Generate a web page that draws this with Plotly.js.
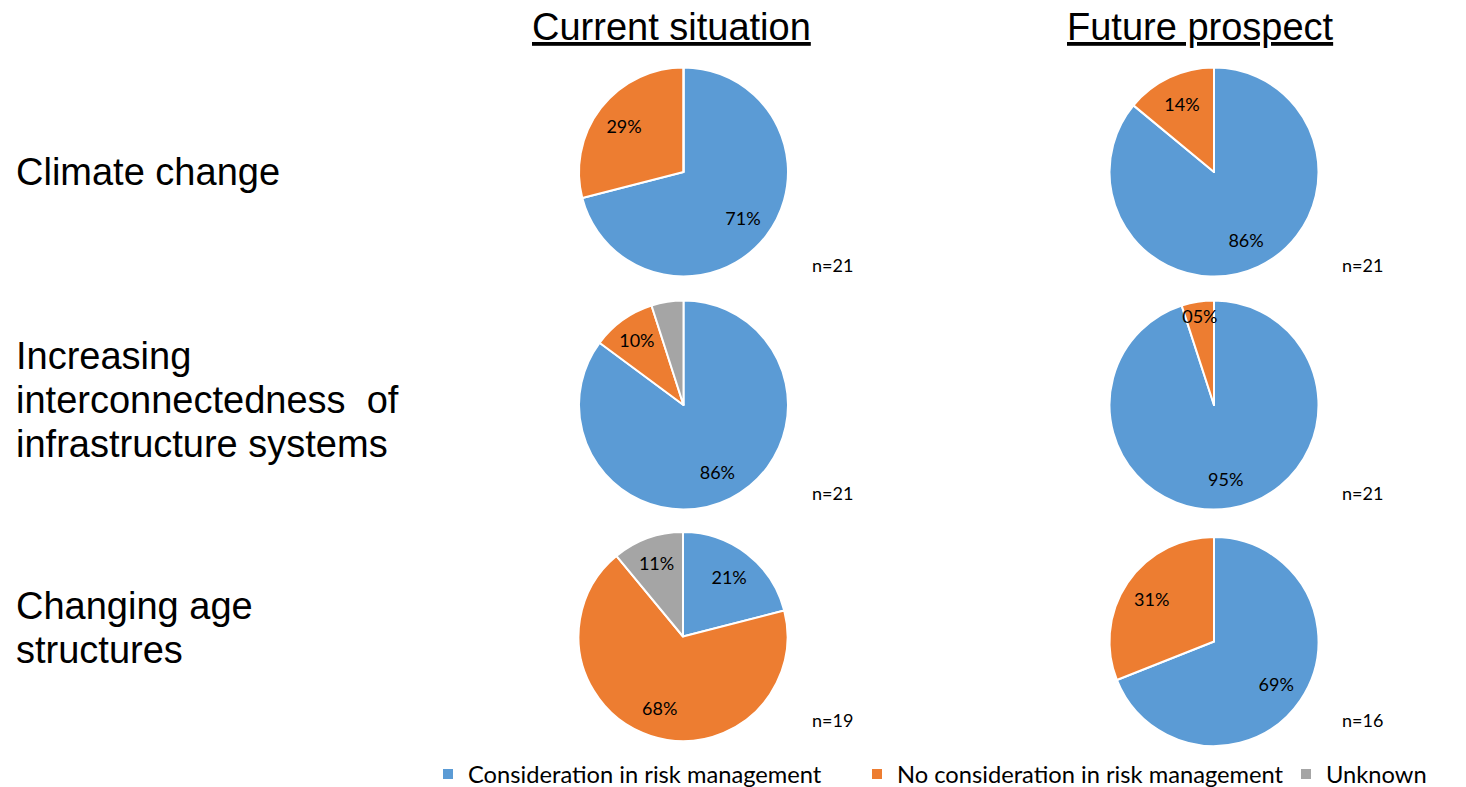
<!DOCTYPE html>
<html>
<head>
<meta charset="utf-8">
<script src="https://cdn.plot.ly/plotly-3.0.1.min.js"></script>
<style>html,body{margin:0;padding:0;background:#fff;} #chart{width:1466px;height:787px;}</style>
</head>
<body>
<div id="chart"></div>
<script>
// ---- data ----
const categories = ['Consideration in risk management', 'No consideration in risk management', 'Unknown'];
const colors = ['#5B9BD5', '#ED7D31', '#A5A5A5'];
const rowLabels = [['Climate change'], ['Increasing', 'interconnectedness  of', 'infrastructure systems'], ['Changing age', 'structures']];
const columnTitles = ['Current situation', 'Future prospect'];
// percent shares per row (Climate change, Interconnectedness, Age structures)
const currentValues = [[71, 29, 0], [86, 10, 5], [21, 68, 11]];
const futureValues = [[86, 14, 0], [95, 5, 0], [69, 31, 0]];
const currentText = [['71%', '29%', ''], ['86%', '10%', ''], ['21%', '68%', '11%']];
const futureText = [['86%', '14%', ''], ['95%', '05%', ''], ['69%', '31%', '']];
const currentN = ['n=21', 'n=21', 'n=19'];
const futureN = ['n=21', 'n=21', 'n=16'];

// ---- layout helpers ----
const W = 1466, H = 787;
const R = 104.5;
const curCenters = [[683.5, 172], [683.5, 405], [683, 636.5]];
const futCenters = [[1214, 172], [1214, 405], [1214, 641.5]];
function dom(c) {
  return {x: [(c[0] - R) / W, (c[0] + R) / W], y: [1 - (c[1] + R) / H, 1 - (c[1] - R) / H]};
}
const labelFont = {family: 'Lato, Carlito, sans-serif', size: 18, color: '#000'};

const traces = [];
function addPie(values, text, center, showLegend) {
  // filled slices
  traces.push({
    type: 'pie',
    labels: categories,
    values: values,
    textinfo: 'none',
    sort: false,
    direction: 'clockwise',
    rotation: 0,
    marker: {colors: colors, line: {color: '#fff', width: 2}},
    domain: dom(center),
    showlegend: showLegend,
    hoverinfo: 'label+percent'
  });
  // transparent ring carrying the data labels (places them further out like the original)
  traces.push({
    type: 'pie',
    labels: categories,
    values: values,
    text: text,
    textinfo: 'text',
    textposition: 'inside',
    insidetextorientation: 'horizontal',
    insidetextfont: labelFont,
    hole: 0.44,
    sort: false,
    direction: 'clockwise',
    rotation: 0,
    marker: {colors: ['rgba(0,0,0,0)', 'rgba(0,0,0,0)', 'rgba(0,0,0,0)'], line: {width: 0}},
    domain: dom(center),
    showlegend: false,
    hoverinfo: 'skip'
  });
}
for (let i = 0; i < 3; i++) {
  addPie(currentValues[i], currentText[i], curCenters[i], i === 2);
  addPie(futureValues[i], futureText[i], futCenters[i], false);
}

const annotations = [];
const titleX = [671, 1200];
columnTitles.forEach((t, i) => annotations.push({
  text: '<u>' + t + '</u>', xref: 'paper', yref: 'paper', x: titleX[i] / W, y: 1 - 27 / H,
  xanchor: 'center', yanchor: 'middle', showarrow: false,
  font: {family: '"Liberation Sans Narrow", "Arial Narrow", "Liberation Sans", Arial, sans-serif', size: 38, color: '#000'}
}));
const rowY = [[172], [356, 400, 444], [606, 650]];
rowLabels.forEach((lines, i) => lines.forEach((t, j) => annotations.push({
  text: t, xref: 'paper', yref: 'paper', x: 14 / W, y: 1 - rowY[i][j] / H,
  xanchor: 'left', yanchor: 'middle', align: 'left', showarrow: false,
  font: {family: '"Liberation Sans", Arial, sans-serif', size: 38, color: '#000'}
})));
const nY = [265, 493, 720];
for (let i = 0; i < 3; i++) {
  annotations.push({text: currentN[i], xref: 'paper', yref: 'paper', x: 833 / W, y: 1 - nY[i] / H,
    xanchor: 'center', yanchor: 'middle', showarrow: false, font: labelFont});
  annotations.push({text: futureN[i], xref: 'paper', yref: 'paper', x: 1362 / W, y: 1 - nY[i] / H,
    xanchor: 'center', yanchor: 'middle', showarrow: false, font: labelFont});
}

const layout = {
  width: W, height: H,
  margin: {l: 0, r: 0, t: 0, b: 0, autoexpand: false},
  paper_bgcolor: '#fff',
  showlegend: true,
  uniformtext: {minsize: 18, mode: 'show'},
  legend: {
    orientation: 'h', x: 428 / W, y: 1 - 774 / H, xanchor: 'left', yanchor: 'middle',
    entrywidth: 384, entrywidthmode: 'pixels',
    font: {family: 'Lato, Carlito, sans-serif', size: 23.7, color: '#000'},
    traceorder: 'normal', bgcolor: 'rgba(0,0,0,0)'
  },
  annotations: annotations
};

Plotly.newPlot('chart', traces, layout, {displayModeBar: false, staticPlot: true});
</script>
</body>
</html>
